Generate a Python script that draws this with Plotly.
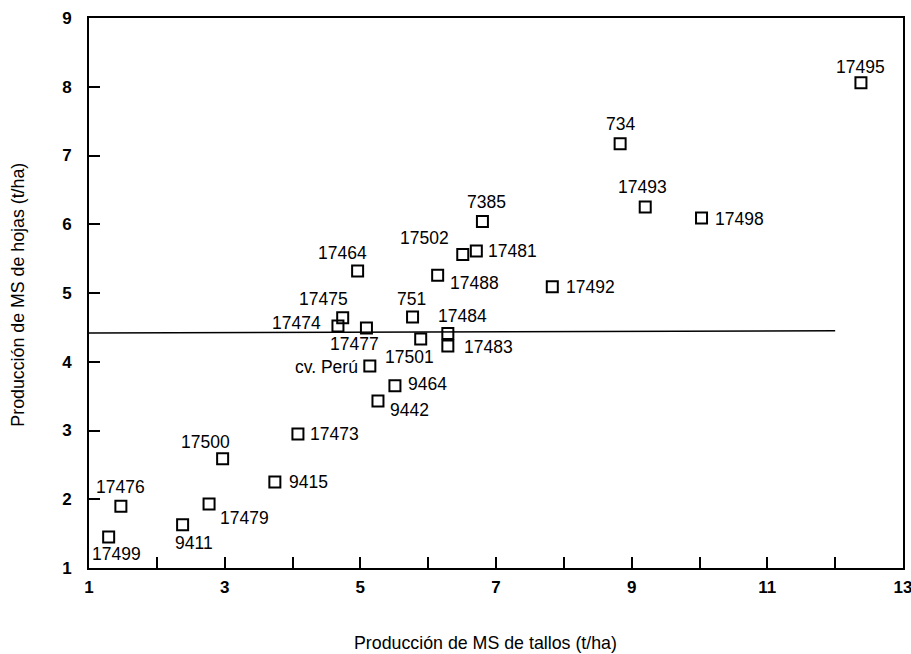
import plotly.graph_objects as go

# Data
labels = ["17495", "734", "17493", "17498", "7385", "17481", "17502", "17492",
          "17464", "17488", "751", "17475", "17474", "17477", "17501", "17484",
          "17483", "cv. Perú", "9464", "9442", "17473", "17500", "9415",
          "17476", "17479", "9411", "17499"]
tallos = [12.38, 8.83, 9.20, 10.03, 6.80, 6.71, 6.51, 7.83,
          4.96, 6.14, 5.77, 4.74, 4.67, 5.09, 5.89, 6.29,
          6.29, 5.14, 5.51, 5.26, 4.08, 2.97, 3.74,
          1.47, 2.77, 2.38, 1.29]
hojas = [8.06, 7.17, 6.25, 6.09, 6.04, 5.61, 5.56, 5.09,
         5.32, 5.26, 4.65, 4.64, 4.52, 4.49, 4.33, 4.41,
         4.23, 3.94, 3.65, 3.43, 2.95, 2.59, 2.25,
         1.90, 1.93, 1.63, 1.45]

mean_line_x = [1, 12]
mean_line_y = [4.42, 4.45]

x_tickvals = list(range(1, 14))
x_ticktext = [str(v) if v % 2 == 1 else "" for v in x_tickvals]
y_tickvals = list(range(1, 10))
y_ticktext = [str(v) for v in y_tickvals]

x_title = "Producción de MS de tallos (t/ha)"
y_title = "Producción de MS de hojas (t/ha)"

# Label placement styles (anchor, x offset px, y offset px downward)
label_style = [
    ("center", 0, -16), ("center", 0, -20), ("center", -3, -20), ("left", 11, 1),
    ("center", 4, -20), ("left", 10, 0), ("right", -12, -17), ("left", 12, 0),
    ("center", -15, -18), ("left", 10, 8), ("center", -1, -18), ("center", -19, -19),
    ("right", -15, -3), ("center", -12, 16), ("center", -11, 18), ("center", 15, -18),
    ("left", 14, 1), ("right", -10, 1), ("left", 11, -2), ("left", 10, 9),
    ("left", 10, 0), ("center", -17, -17), ("left", 12, 0),
    ("center", 0, -19), ("left", 9, 14), ("center", 11, 18), ("center", 8, 17),
]

FONT = "Liberation Sans, Arial, Helvetica, sans-serif"

fig = go.Figure()
fig.add_trace(go.Scatter(
    x=mean_line_x, y=mean_line_y, mode="lines",
    line=dict(color="black", width=1.5), hoverinfo="skip", showlegend=False))
fig.add_trace(go.Scatter(
    x=tallos, y=hojas, mode="markers",
    marker=dict(symbol="square-open", size=11, color="black", line=dict(width=2, color="black")),
    showlegend=False))

annotations = []
for lab, xv, yv, (anc, dx, dy) in zip(labels, tallos, hojas, label_style):
    annotations.append(dict(
        x=xv, y=yv, xref="x", yref="y", text=lab, showarrow=False,
        xanchor=anc, yanchor="middle", xshift=dx, yshift=-dy,
        font=dict(family=FONT, size=17.5, color="black")))

annotations.append(dict(
    x=0.487, y=0, xref="paper", yref="paper", text=x_title, showarrow=False,
    xanchor="center", yanchor="middle", yshift=-75,
    font=dict(family=FONT, size=17.8, color="black")))
annotations.append(dict(
    x=0, y=0.497, xref="paper", yref="paper", text=y_title, showarrow=False,
    xanchor="center", yanchor="middle", xshift=-71, textangle=-90,
    font=dict(family=FONT, size=17.8, color="black")))

fig.update_layout(
    width=911, height=654,
    margin=dict(l=89, r=8, t=18, b=86, autoexpand=False),
    paper_bgcolor="white", plot_bgcolor="white",
    annotations=annotations,
    font=dict(family=FONT, color="black"),
)
fig.update_xaxes(
    range=[1, 13], tickvals=x_tickvals, ticktext=x_ticktext,
    ticks="inside", ticklen=11, tickwidth=2, tickcolor="black",
    showline=True, linewidth=2, linecolor="black", mirror=True,
    showgrid=False, zeroline=False, automargin=False,
    tickfont=dict(family=FONT, size=17, color="black", weight="bold"),
    ticklabelstandoff=3, ticklabeloverflow="allow",
)
fig.update_yaxes(
    range=[1, 9], tickvals=y_tickvals, ticktext=y_ticktext,
    ticks="inside", ticklen=11, tickwidth=2, tickcolor="black",
    showline=True, linewidth=2, linecolor="black", mirror=True,
    showgrid=False, zeroline=False, automargin=False,
    tickfont=dict(family=FONT, size=17, color="black", weight="bold"),
    ticklabelstandoff=12, ticklabeloverflow="allow",
)

fig.write_html("out.html", config={"displayModeBar": False},
               post_script="document.body.style.margin='0';")
